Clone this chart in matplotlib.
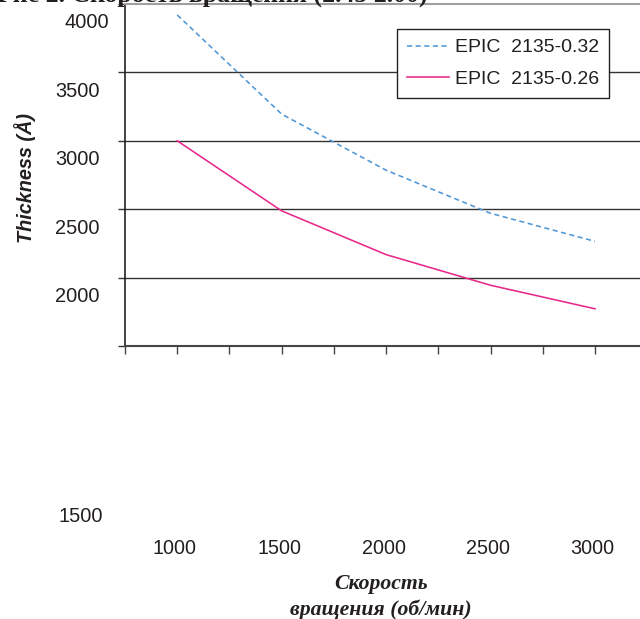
import matplotlib
matplotlib.use("Agg")
import matplotlib.pyplot as plt
from matplotlib.transforms import ScaledTranslation

# ---- data ----
speeds = [1000, 1500, 2000, 2500, 3000]
epic_032 = [3920, 3195, 2785, 2470, 2265]
epic_026 = [3000, 2488, 2168, 1944, 1772]
series_labels = ["EPIC  2135-0.32", "EPIC  2135-0.26"]
y_ticks = [1500, 2000, 2500, 3000, 3500, 4000]
x_label_ticks = [1000, 1500, 2000, 2500, 3000]
x_minor_ticks = [750, 1250, 1750, 2250, 2750]
title_text = "Рис 2. Скорость вращения (2.45 2.00)"
xlabel_text = "Скорость\nвращения (об/мин)"
ylabel_text = "Thickness (Å)"

# ---- style ----
plt.rcParams['font.family'] = ['Liberation Sans', 'DejaVu Sans']
TXT = "#231f20"
DPI = 100
W, H = 640, 619
fig = plt.figure(figsize=(W / DPI, H / DPI), dpi=DPI)

ax_left, ax_top, ax_bot = 125, 4, 346
ax = fig.add_axes([ax_left / W, 1 - ax_bot / H, 1 - ax_left / W, (ax_bot - ax_top) / H])
px_per_unit = (595 - 125) / (3000 - 750)
ax.set_xlim(750, 750 + (W - ax_left) / px_per_unit)
ax.set_ylim(1500, 4000)

ax.plot(speeds, epic_032, color="#4f97d6", lw=1.15, linestyle=(0, (3.2, 2.2)),
        label=series_labels[0])
ax.plot(speeds, epic_026, color="#e8288a", lw=1.15, label=series_labels[1])

# grid
for v in y_ticks[1:-1]:
    ax.axhline(v, color="#333333", lw=1.0, zorder=0)

# spines
ax.spines['right'].set_visible(False)
ax.spines['top'].set_color("#a0a0a0")
ax.spines['top'].set_linewidth(1.5)
ax.spines['left'].set_color("#222222")
ax.spines['left'].set_linewidth(1.2)
ax.spines['bottom'].set_color("#444444")
ax.spines['bottom'].set_linewidth(1.5)

# x ticks
ax.set_xticks(x_label_ticks)
ax.set_xticklabels([str(v) for v in x_label_ticks])
ax.set_xticks(x_minor_ticks, minor=True)
ax.tick_params(axis='x', which='both', direction='out', length=6, width=1.0,
               color="#444444")
ax.tick_params(axis='x', which='major', pad=133, labelsize=14.2, labelcolor=TXT)
for lab in ax.get_xticklabels():
    lab.set_transform(lab.get_transform() + ScaledTranslation(-2.5 / DPI, 0, fig.dpi_scale_trans))

# y ticks
ax.set_yticks(y_ticks)
ax.set_yticklabels([str(v) for v in y_ticks])
ax.tick_params(axis='y', direction='out', length=5, width=1.0, color="#333333",
               pad=13, labelsize=14.4, labelcolor=TXT)
y_offsets = {1500: (3, -169), 4000: (9, -17)}
for v, lab in zip(y_ticks, ax.get_yticklabels()):
    dx, dy = y_offsets.get(v, (0, -17))
    lab.set_transform(lab.get_transform() + ScaledTranslation(dx / DPI, dy / DPI, fig.dpi_scale_trans))

# labels
ax.set_ylabel(ylabel_text, fontsize=14.3, fontweight='bold', fontstyle='italic', color=TXT)
ax.yaxis.set_label_coords((25 - ax_left) / (W - ax_left), (ax_bot - 178) / (ax_bot - ax_top))
ax.yaxis.label.set_va('center')
ax.yaxis.label.set_rotation_mode('default')

ax.set_xlabel(xlabel_text, fontsize=15.7, fontweight='bold', fontstyle='italic',
              family=['Liberation Serif', 'DejaVu Serif'], color=TXT, linespacing=1.3)
ax.xaxis.set_label_coords((381 - ax_left) / (W - ax_left), -(597 - ax_bot) / (ax_bot - ax_top))
ax.xaxis.label.set_va('center')

# title (cut at the top edge)
fig.text(-3 / W, 1 - 3 / H, title_text, fontsize=18.5, fontweight='bold',
         family=['Liberation Serif', 'DejaVu Serif'], color=TXT, va='baseline', ha='left')

# legend
leg = ax.legend(loc='upper right', bbox_to_anchor=(609 / W, 1 - 29 / H),
                bbox_transform=fig.transFigure, borderaxespad=0, fontsize=14,
                frameon=True, fancybox=False, framealpha=1, edgecolor="#222222",
                handlelength=2.2, handletextpad=0.3, labelspacing=0.72, borderpad=0.5)
leg.get_frame().set_linewidth(1.0)
for t in leg.get_texts():
    t.set_color(TXT)

fig.savefig("out.png", dpi=DPI)
